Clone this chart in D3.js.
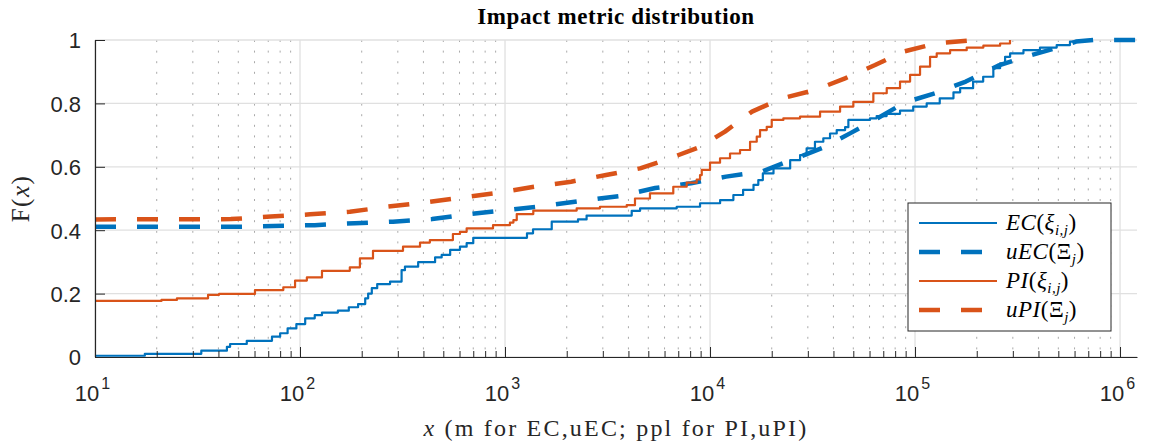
<!DOCTYPE html>
<html>
<head>
<meta charset="utf-8">
<script src="https://cdn.jsdelivr.net/npm/d3@7"></script>
<style>
body{margin:0;background:#fff;}
</style>
</head>
<body>
<svg id="chart" width="1149" height="445"></svg>
<script>
// EC(xi_ij) - empirical CDF, step points
var ecX = [10, 17.5, 33, 44, 45.6, 55, 73, 80, 87, 96, 106, 118, 128, 153, 173, 192, 208, 215, 224, 238,
  275, 313, 325, 377, 456, 491, 540, 603, 650, 700, 1280, 1370, 1690, 2270, 2500, 4150, 4560, 6880,
  8940, 11200, 13000, 14500, 16300, 17200, 18100, 20400, 24600, 27500, 29600, 32500, 35700, 38500,
  41500, 45600, 47300, 60300, 65000, 72700, 84500, 98000, 114000, 132000, 154000, 166000, 192000,
  215000, 241000, 260000, 275000, 291000, 338000, 407000, 491000, 570000, 615000];
var ecF = [0.004, 0.01, 0.02, 0.032, 0.041, 0.051, 0.064, 0.075, 0.09, 0.104, 0.122, 0.132, 0.14, 0.146, 0.157, 0.167, 0.185, 0.2, 0.217, 0.23,
  0.238, 0.274, 0.285, 0.299, 0.314, 0.322, 0.338, 0.348, 0.359, 0.376, 0.39, 0.403, 0.427, 0.434, 0.446, 0.461, 0.469, 0.474,
  0.485, 0.495, 0.511, 0.527, 0.543, 0.558, 0.579, 0.595, 0.621, 0.637, 0.658, 0.679, 0.69, 0.705,
  0.716, 0.725, 0.748, 0.753, 0.76, 0.767, 0.777, 0.79, 0.80, 0.816, 0.835, 0.848, 0.869,
  0.884, 0.911, 0.926, 0.947, 0.958, 0.968, 0.976, 0.984, 0.995, 1.0];

// uEC(Xi_j)
var uecX = [10, 51, 74, 118, 185, 284, 441, 675, 1035, 1570, 2380, 3640, 5400, 8080, 11970, 17900,
  26300, 35200, 48700, 66000, 89400, 125000, 177000, 254000, 344000, 499000, 610000, 746000, 1211000];
var uecF = [0.411, 0.411, 0.413, 0.416, 0.422, 0.427, 0.435, 0.451, 0.464, 0.477, 0.493, 0.508, 0.533, 0.548, 0.569, 0.585,
  0.627, 0.659, 0.707, 0.754, 0.803, 0.832, 0.869, 0.919, 0.947, 0.976, 0.995, 1.0, 1.0];

// PI(xi_ij) - step points
var piX = [10, 21.1, 25.1, 35.6, 40.3, 60.3, 82.9, 94.6, 108, 128, 175, 196, 227, 318, 385, 430, 557, 603, 650,
  874, 1057, 1099, 1141, 1374, 2237, 2905, 3924, 4305, 5094, 6619, 7695, 8610, 8940, 9114, 10000,
  11190, 12520, 14010, 15680, 16900, 17540, 18910, 20000, 22790, 27480, 34420, 43090, 50020, 62620,
  72770, 84500, 94600, 105800, 118400, 127600, 148300, 178700, 215400, 260000, 290600];
var piF = [0.177, 0.18, 0.185, 0.196, 0.199, 0.211, 0.22, 0.241, 0.251, 0.272, 0.283, 0.311, 0.335, 0.348, 0.361, 0.369, 0.388, 0.395, 0.406,
  0.416, 0.424, 0.432, 0.451, 0.462, 0.469, 0.474, 0.479, 0.5, 0.516, 0.537, 0.55, 0.56, 0.574, 0.59, 0.613,
  0.627, 0.642, 0.653, 0.679, 0.695, 0.716, 0.726, 0.748, 0.753, 0.758, 0.774, 0.79, 0.805, 0.832,
  0.848, 0.869, 0.890, 0.916, 0.947, 0.958, 0.968, 0.976, 0.982, 0.989, 1.0];

// uPI(Xi_j)
var upiX = [10, 46, 72, 112, 175, 266, 403, 610, 924, 1385, 2100, 3110, 4560, 6390, 8940, 11830,
  16030, 22450, 32510, 45580, 63840, 87350, 126400, 196200, 221600];
var upiF = [0.434, 0.435, 0.443, 0.450, 0.458, 0.474, 0.487, 0.503, 0.518, 0.537, 0.553, 0.574, 0.595, 0.627, 0.663, 0.711,
  0.774, 0.816, 0.842, 0.879, 0.921, 0.963, 0.989, 1.0, 1.0];

var yTicks = [0, 0.2, 0.4, 0.6, 0.8, 1];
var xDecades = [10, 100, 1000, 10000, 100000, 1000000];
var xExp = [1, 2, 3, 4, 5, 6];

var series = [
  {name: "EC", xs: ecX, fs: ecF, color: "#0072BD", dashed: false, step: true},
  {name: "uEC", xs: uecX, fs: uecF, color: "#0072BD", dashed: true, step: false},
  {name: "PI", xs: piX, fs: piF, color: "#D95319", dashed: false, step: true},
  {name: "uPI", xs: upiX, fs: upiF, color: "#D95319", dashed: true, step: false}
];

var svg = d3.select("#chart");
var pL = 95, pR = 1137, pT = 40, pB = 357;

var x = d3.scaleLog().domain([10, 1.21e6]).range([pL, pR]);
var y = d3.scaleLinear().domain([0, 1]).range([pB, pT]);

var axisColor = "#262626";

// minor x values
var minor = [];
for (var d = 10; d < 1.21e6; d *= 10) {
  for (var k = 2; k <= 9; k++) { if (d * k <= 1.21e6) minor.push(d * k); }
}

var grid = svg.append("g");
grid.selectAll("line.minor").data(minor).enter().append("line")
  .attr("x1", function(v){return x(v);}).attr("x2", function(v){return x(v);})
  .attr("y1", pT).attr("y2", pB)
  .attr("stroke", "#a9a9a9").attr("stroke-width", 1).attr("stroke-dasharray", "2 8.6");
grid.selectAll("line.gx").data(xDecades).enter().append("line")
  .attr("x1", function(v){return x(v);}).attr("x2", function(v){return x(v);})
  .attr("y1", pT).attr("y2", pB)
  .attr("stroke", "#e0e0e0").attr("stroke-width", 1.3);
grid.selectAll("line.gy").data(yTicks).enter().append("line")
  .attr("x1", pL).attr("x2", pR)
  .attr("y1", function(v){return y(v);}).attr("y2", function(v){return y(v);})
  .attr("stroke", "#e0e0e0").attr("stroke-width", 1.3);

// data lines
svg.append("clipPath").attr("id", "clip").append("rect")
  .attr("x", pL).attr("y", pT - 4).attr("width", pR - pL).attr("height", pB - pT + 6);
var plot = svg.append("g").attr("clip-path", "url(#clip)");

series.forEach(function(s){
  var pts = s.xs.map(function(v, i){ return [v, s.fs[i]]; });
  var line = d3.line()
    .x(function(p){ return x(p[0]); })
    .y(function(p){ return y(p[1]); })
    .curve(s.step ? d3.curveStepAfter : d3.curveLinear);
  plot.append("path").datum(pts)
    .attr("d", line)
    .attr("fill", "none")
    .attr("stroke", s.color)
    .attr("stroke-width", s.dashed ? 4.5 : 2.2)
    .attr("stroke-dasharray", s.dashed ? "21 21" : null)
    .attr("stroke-linejoin", "round");
});

// axes
var xAxis = svg.append("g").attr("transform", "translate(0," + pB + ")")
  .call(d3.axisBottom(x).tickValues(xDecades).tickSizeInner(-10).tickSizeOuter(0).tickPadding(28)
    .tickFormat(function(){ return ""; }));
svg.append("g").attr("transform", "translate(0," + pB + ")")
  .call(d3.axisBottom(x).tickValues(minor).tickSizeInner(-6).tickSizeOuter(0).tickFormat(""))
  .call(function(g){ g.select(".domain").remove(); g.selectAll("line").attr("stroke", axisColor); });

xAxis.select(".domain").attr("stroke", axisColor).attr("stroke-width", 1.2);
xAxis.selectAll("line").attr("stroke", axisColor);
xAxis.selectAll(".tick text").each(function(v, i){
  var t = d3.select(this);
  t.attr("dy", null).attr("y", 44).attr("x", -3)
    .attr("font-family", "'Liberation Sans', Arial, sans-serif").attr("font-size", 22).attr("fill", axisColor);
  t.append("tspan").text("10");
  t.append("tspan").attr("dy", -12).attr("dx", 2).attr("font-size", 16).text(xExp[i]);
});

var yAxis = svg.append("g").attr("transform", "translate(" + pL + ",0)")
  .call(d3.axisLeft(y).tickValues(yTicks).tickSizeInner(-10).tickSizeOuter(0).tickPadding(14)
    .tickFormat(d3.format("~g")));
yAxis.select(".domain").attr("stroke", axisColor).attr("stroke-width", 1.2);
yAxis.selectAll("line").attr("stroke", axisColor);
yAxis.selectAll(".tick text")
  .attr("font-family", "'Liberation Sans', Arial, sans-serif").attr("font-size", 22).attr("fill", axisColor)
  .attr("dy", "0.36em");

// title and labels
var serif = "'Liberation Serif', 'Times New Roman', serif";
svg.append("text").attr("x", (pL + pR) / 2).attr("y", 24)
  .attr("text-anchor", "middle").attr("font-family", serif).attr("font-weight", "bold")
  .attr("font-size", 23).attr("letter-spacing", 0.6).attr("fill", "#000").text("Impact metric distribution");

var xl = svg.append("text").attr("x", (pL + pR) / 2).attr("y", 436)
  .attr("text-anchor", "middle").attr("font-family", serif).attr("font-size", 24)
  .attr("letter-spacing", 2.2).attr("fill", "#262626");
xl.append("tspan").attr("font-style", "italic").text("x");
xl.append("tspan").text(" (m for EC,uEC; ppl for PI,uPI)");

var yl = svg.append("text").attr("transform", "translate(29," + ((pT + pB) / 2) + ") rotate(-90)")
  .attr("text-anchor", "middle").attr("font-family", serif).attr("font-size", 25)
  .attr("letter-spacing", 1.5).attr("fill", "#262626");
yl.append("tspan").text("F(");
yl.append("tspan").attr("font-style", "italic").text("x");
yl.append("tspan").text(")");

// legend
var lg = svg.append("g").attr("transform", "translate(908,203)");
lg.append("rect").attr("width", 203).attr("height", 128)
  .attr("fill", "#fff").attr("stroke", axisColor).attr("stroke-width", 1);
var labels = [
  {m: "EC", sym: "\u03BE", sub: "i,j"},
  {m: "uEC", sym: "\u039E", sub: "j"},
  {m: "PI", sym: "\u03BE", sub: "i,j"},
  {m: "uPI", sym: "\u039E", sub: "j"}
];
series.forEach(function(s, i){
  var yy = 20 + i * 29;
  lg.append("line").attr("x1", 11).attr("x2", 89).attr("y1", yy).attr("y2", yy)
    .attr("stroke", s.color).attr("stroke-width", s.dashed ? 4.5 : 2.2)
    .attr("stroke-dasharray", s.dashed ? "21 21" : null);
  var t = lg.append("text").attr("x", 98).attr("y", yy + 7)
    .attr("font-family", serif).attr("font-size", 23).attr("letter-spacing", 0.5).attr("fill", "#000");
  t.append("tspan").attr("font-style", "italic").text(labels[i].m);
  t.append("tspan").text("(");
  t.append("tspan").attr("font-style", labels[i].sym === "\u03BE" ? "italic" : null).text(labels[i].sym);
  t.append("tspan").attr("font-style", "italic").attr("font-size", 15).attr("dy", 5).text(labels[i].sub);
  t.append("tspan").attr("dy", -5).text(")");
});
</script>
</body>
</html>
